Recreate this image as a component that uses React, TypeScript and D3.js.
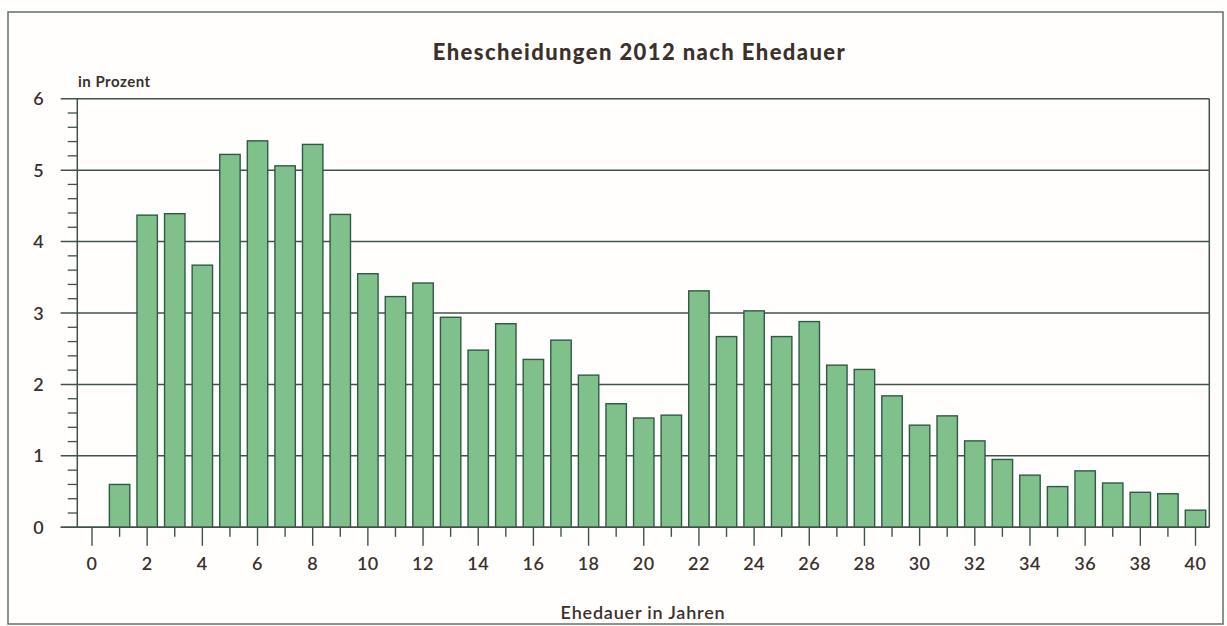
import React from "react";
import * as d3 from "d3";

const years: number[] = d3.range(0, 41);
const shares: number[] = [
  0, 0.6, 4.37, 4.39, 3.67, 5.22, 5.41, 5.06, 5.36, 4.38,
  3.55, 3.23, 3.42, 2.94, 2.48, 2.85, 2.35, 2.62, 2.13, 1.73,
  1.53, 1.57, 3.31, 2.67, 3.03, 2.67, 2.88, 2.27, 2.21, 1.84,
  1.43, 1.56, 1.21, 0.95, 0.73, 0.57, 0.79, 0.62, 0.49, 0.47,
  0.24,
];
const yTicks: number[] = [0, 1, 2, 3, 4, 5, 6];
const titleText = "Ehescheidungen 2012 nach Ehedauer";
const yUnitText = "in Prozent";
const xTitleText = "Ehedauer in Jahren";

const W = 1227;
const H = 626;
const TXT = "#3b302c";
const LINE = "#3f5349";
const FILL = "#80c08b";
const BAR_STROKE = "#2f5a47";
const FONT = "Lato, 'Open Sans', sans-serif";

export default function App() {
  const left = 77.3;
  const right = 1209.3;
  const top = 98.7;
  const bottom = 527.3;

  const x = d3
    .scaleBand<number>()
    .domain(years)
    .range([78.2, right])
    .paddingInner(0.26)
    .paddingOuter(0.13);
  const y = d3.scaleLinear().domain([0, 6]).range([bottom, top]);
  const minor = d3.range(0, 6.001, 0.2).filter((v) => Math.abs(v - Math.round(v)) > 1e-6);
  const cx = (d: number) => (x(d) as number) + x.bandwidth() / 2;

  return (
    <svg
      width={W}
      height={H}
      style={{ position: "absolute", left: 0, top: 0, background: "#fffefd" }}
    >
      <rect x={8} y={12} width={1215} height={612} fill="none" stroke="#627068" strokeWidth={1.5} />
      <text
        x={639.5}
        y={60}
        textAnchor="middle"
        fontFamily={FONT}
        fontWeight={900}
        fontSize={22}
        fill={TXT}
        letterSpacing={1.4}
      >
        {titleText}
      </text>
      <text x={78} y={87} fontFamily={FONT} fontWeight={700} fontSize={15} fill={TXT} letterSpacing={0.5}>
        {yUnitText}
      </text>

      {/* gridlines */}
      {yTicks.map((t) => (
        <line key={"g" + t} x1={60.7} x2={right} y1={y(t)} y2={y(t)} stroke={LINE} strokeWidth={1.5} />
      ))}
      {minor.map((t) => (
        <line key={"m" + t} x1={67.7} x2={left} y1={y(t)} y2={y(t)} stroke={LINE} strokeWidth={1.3} />
      ))}
      {yTicks.map((t) => (
        <text
          key={"yl" + t}
          x={38.5}
          y={y(t) + 6.5}
          textAnchor="middle"
          fontFamily={FONT}
          fontWeight={600}
          fontSize={18}
          fill={TXT}
        >
          {t}
        </text>
      ))}

      {/* bars */}
      {years.map((d, i) =>
        shares[i] > 0 ? (
          <rect
            key={"b" + d}
            x={x(d)}
            y={y(shares[i])}
            width={x.bandwidth()}
            height={y(0) - y(shares[i])}
            fill={FILL}
            stroke={BAR_STROKE}
            strokeWidth={1.4}
          />
        ) : null
      )}

      {/* axes */}
      <line x1={left} x2={left} y1={top} y2={bottom} stroke={LINE} strokeWidth={1.5} />
      <line x1={right} x2={right} y1={top} y2={bottom} stroke={LINE} strokeWidth={1.5} />
      <line x1={60.7} x2={right} y1={bottom} y2={bottom} stroke={LINE} strokeWidth={1.5} />

      {years.map((d) => (
        <line
          key={"xt" + d}
          x1={cx(d)}
          x2={cx(d)}
          y1={bottom}
          y2={d % 2 === 0 ? bottom + 18.5 : bottom + 9.5}
          stroke={LINE}
          strokeWidth={1.4}
        />
      ))}
      {years
        .filter((d) => d % 2 === 0)
        .map((d) => (
          <text
            key={"xl" + d}
            x={cx(d)}
            y={570}
            textAnchor="middle"
            fontFamily={FONT}
            fontWeight={600}
            fontSize={18}
            fill={TXT}
            letterSpacing={0.5}
          >
            {d}
          </text>
        ))}
      <text
        x={643}
        y={619}
        textAnchor="middle"
        fontFamily={FONT}
        fontWeight={600}
        fontSize={18}
        fill={TXT}
        letterSpacing={0.8}
      >
        {xTitleText}
      </text>
    </svg>
  );
}
